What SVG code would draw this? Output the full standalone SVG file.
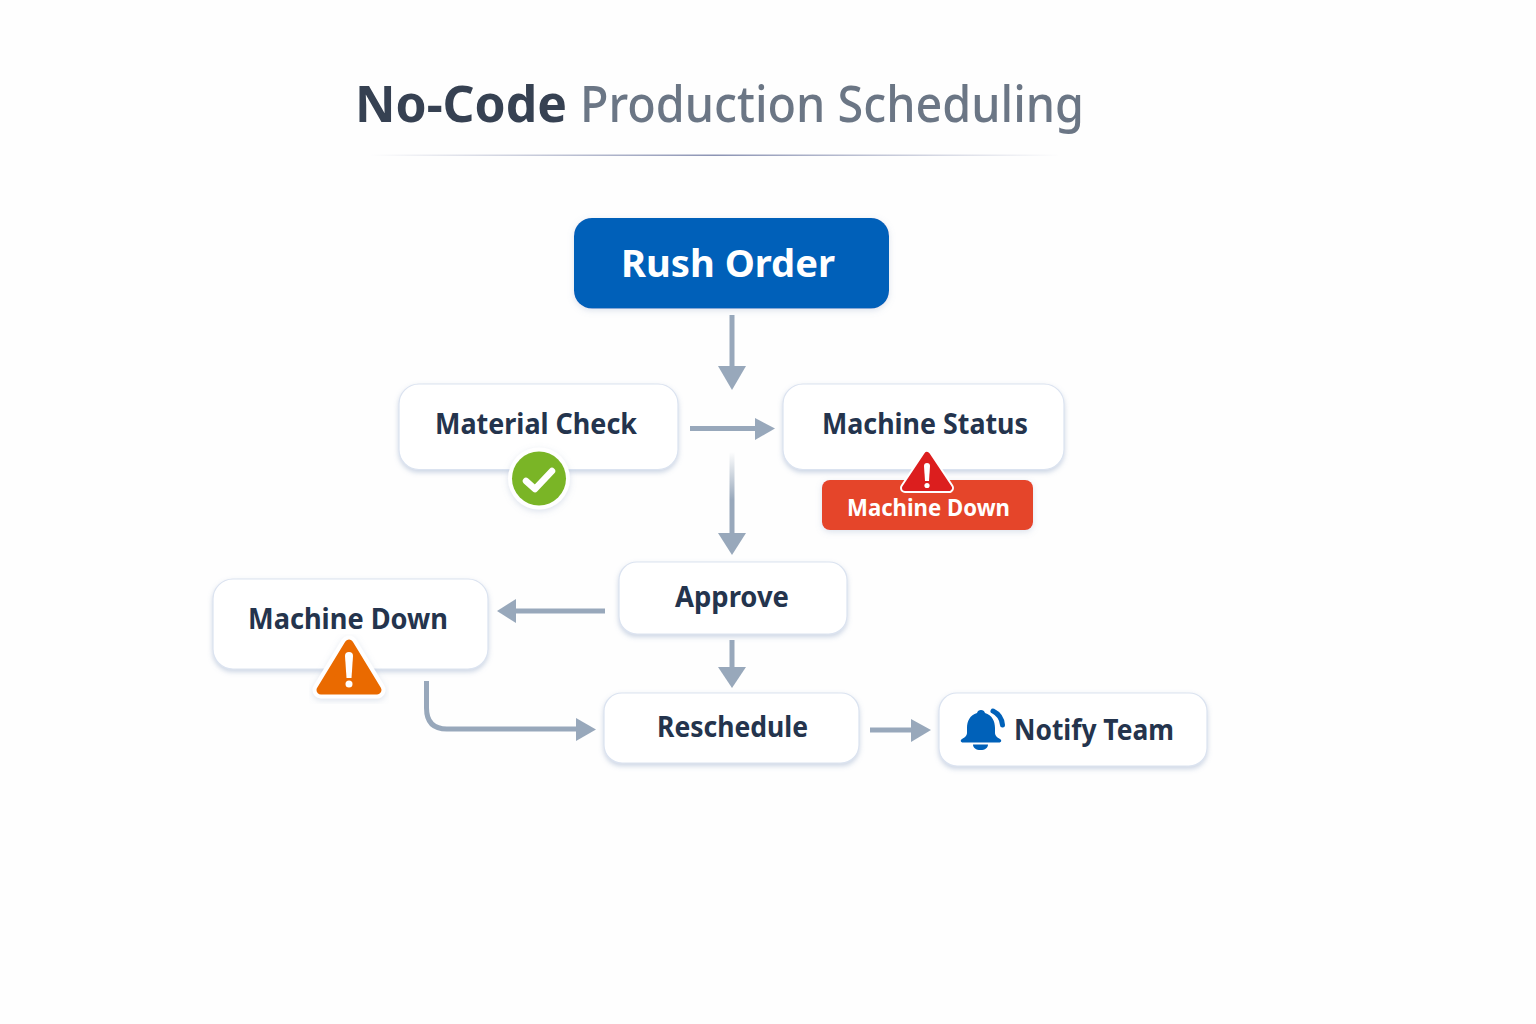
<svg xmlns="http://www.w3.org/2000/svg" width="1536" height="1024" viewBox="0 0 1536 1024">
<style>
text{font-family:"Noto Sans","Open Sans","Liberation Sans",sans-serif;font-weight:600;fill:#24344d;text-anchor:start}
.card{fill:#fff;stroke:#dbe3f0;stroke-width:1.2;filter:url(#sh)}
.lbl{font-size:28px;font-weight:700}
.ln{fill:none;stroke:#98a8bb;stroke-width:5}
.hd{fill:#98a8bb}
</style>
<defs>
<filter id="sh" x="-10%" y="-15%" width="120%" height="135%"><feDropShadow dx="0" dy="2.500" stdDeviation="2.500" flood-color="#8ea3c4" flood-opacity=".45"/></filter>
<filter id="sh2" x="-20%" y="-20%" width="140%" height="150%"><feDropShadow dx="0" dy="2" stdDeviation="3" flood-color="#8ea3c4" flood-opacity=".3"/></filter>
<linearGradient id="rule" x1="0" x2="1" y1="0" y2="0"><stop offset="0" stop-color="#8c94b4" stop-opacity="0"/><stop offset=".5" stop-color="#8c94b4"/><stop offset="1" stop-color="#8c94b4" stop-opacity="0"/></linearGradient>
<linearGradient id="fade" gradientUnits="userSpaceOnUse" x1="0" x2="0" y1="452" y2="500"><stop offset="0" stop-color="#98a8bb" stop-opacity="0"/><stop offset="1" stop-color="#98a8bb"/></linearGradient>
</defs>
<rect width="1536" height="1024" fill="#fefefe"/>
<g id="title">
<text x="355" y="122" font-size="51" textLength="212" lengthAdjust="spacingAndGlyphs" style="font-weight:700;fill:#364152">No-Code</text>
<text x="580" y="122" font-size="51" textLength="504" lengthAdjust="spacingAndGlyphs" style="font-weight:500;fill:#6b7685">Production Scheduling</text>
<rect x="370" y="154.500" width="690" height="1.500" fill="url(#rule)"/>
</g>
<g id="connectors">
<path class="ln" d="M732 315V368"/><path class="hd" d="M718 366H746L732 390Z"/>
<path class="ln" d="M690 428.500H758"/><path class="hd" d="M755 418L775 428.500L755 440Z"/>
<rect x="729.500" y="452" width="5" height="82" fill="url(#fade)"/><path class="hd" d="M718 533H746L732 555Z"/>
<path class="ln" d="M605 611H514"/><path class="hd" d="M516 599V623L497 611Z"/>
<path class="ln" d="M732 640V670"/><path class="hd" d="M718 667H746L732 688Z"/>
<path class="ln" d="M426.500 681V708Q426.500 729 447 729H578"/><path class="hd" d="M576 718L596 729.500L576 741Z"/>
<path class="ln" d="M870 730H913"/><path class="hd" d="M911 719L931 730L911 742Z"/>
</g>
<g id="rush-order">
<rect x="574" y="218" width="315" height="90.500" rx="18" fill="#0061b9" filter="url(#sh2)"/>
<text x="621" y="277" font-size="38" textLength="214" lengthAdjust="spacingAndGlyphs" style="fill:#fff;font-weight:700">Rush Order</text>
</g>
<g id="material-check">
<rect class="card" x="399" y="384" width="279" height="85.500" rx="20"/>
<text class="lbl" x="435" y="434" textLength="202" lengthAdjust="spacingAndGlyphs">Material Check</text>
<circle cx="539" cy="478.500" r="31" fill="#fff" filter="url(#sh2)"/>
<circle cx="539" cy="478.500" r="27" fill="#7ab526"/>
<path d="M526 481L535 489L552 471" fill="none" stroke="#fff" stroke-width="6.500" stroke-linecap="round" stroke-linejoin="round"/>
</g>
<g id="machine-status">
<rect class="card" x="783" y="384" width="281" height="85.500" rx="20"/>
<text class="lbl" x="822" y="434" textLength="206" lengthAdjust="spacingAndGlyphs">Machine Status</text>
<rect x="822" y="480" width="211" height="50" rx="8" fill="#e5442a" filter="url(#sh2)"/>
<path d="M927 455L949 488H905Z" fill="#fff" stroke="#fff" stroke-width="10" stroke-linejoin="round"/>
<path d="M927 455L949 488H905Z" fill="#dc1e1e" stroke="#dc1e1e" stroke-width="6" stroke-linejoin="round"/>
<path d="M924 466a3 3 0 0 1 6 0l-1 15h-4Z" fill="#fff"/><circle cx="927" cy="485.500" r="2.600" fill="#fff"/>
<text x="847" y="516" font-size="23" textLength="163" lengthAdjust="spacingAndGlyphs" style="fill:#fff;font-weight:700">Machine Down</text>
</g>
<g id="approve">
<rect class="card" x="619" y="562" width="228" height="72" rx="18"/>
<text class="lbl" x="675" y="607" textLength="114" lengthAdjust="spacingAndGlyphs">Approve</text>
</g>
<g id="machine-down">
<rect class="card" x="213" y="579" width="275" height="90" rx="20"/>
<text class="lbl" x="248" y="629" textLength="200" lengthAdjust="spacingAndGlyphs">Machine Down</text>
<path d="M349 644L377 690H321Z" fill="#fff" stroke="#fff" stroke-width="17" stroke-linejoin="round" filter="url(#sh2)"/>
<path d="M349 644L377 690H321Z" fill="#ea6a00" stroke="#ea6a00" stroke-width="9" stroke-linejoin="round"/>
<path d="M345 656a4 4 0 0 1 8 0l-1.500 22h-5Z" fill="#fff"/><circle cx="349" cy="684" r="3.500" fill="#fff"/>
</g>
<g id="reschedule">
<rect class="card" x="604" y="693" width="255" height="70" rx="18"/>
<text class="lbl" x="657" y="737" textLength="151" lengthAdjust="spacingAndGlyphs">Reschedule</text>
</g>
<g id="notify-team">
<rect class="card" x="939" y="693" width="268" height="73" rx="18"/>
<path d="M981 710c2 0 3.500 1 4 3c7 2 10 8 10 15v5c0 3 3 5 5 6c2 1 1.500 3.500-1 3.500h-36c-2.500 0-3-2.500-1-3.500c2-1 5-3 5-6v-5c0-7 3-13 10-15c.5-2 2-3 4-3Z" fill="#0061b9"/>
<path d="M973 744.500h15c0 3.500-3 5.500-7.500 5.500s-7.500-2-7.500-5.500Z" fill="#0061b9"/>
<path d="M993 711c6 3 9 8 9.500 14" fill="none" stroke="#0061b9" stroke-width="5" stroke-linecap="round"/>
<text class="lbl" x="1014" y="740" textLength="160" lengthAdjust="spacingAndGlyphs">Notify Team</text>
</g>
</svg>
